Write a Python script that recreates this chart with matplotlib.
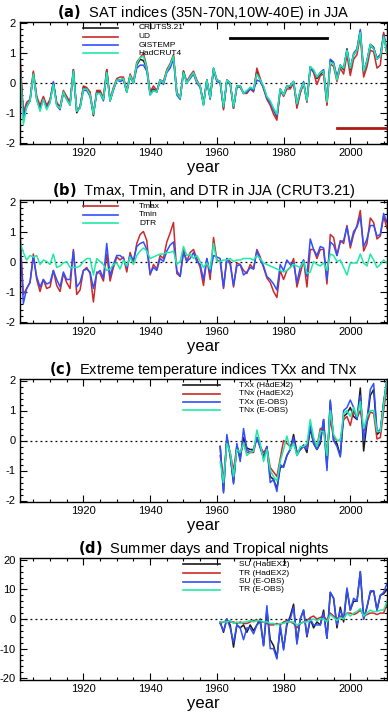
import matplotlib
matplotlib.use("Agg")
import matplotlib.pyplot as plt
from matplotlib.ticker import MultipleLocator
import numpy as np

plt.rcParams['font.family'] = ['Liberation Sans', 'DejaVu Sans']
plt.rcParams['axes.unicode_minus'] = False

years = list(range(1901, 2012))
years_ext = list(range(1961, 2012))

# ---------------- panel (a) ----------------
cruts = [0.7, -1.1, -0.8, -0.6, 0.35, -0.5, -0.85, -0.5, -0.8, -0.6,
         0.0, -0.7, -0.85, -0.3, -0.5, -0.7, 0.45, -1.0, -0.8, -0.15,
         -0.2, -0.4, -1.1, -0.3, -0.3, -0.55, 0.45, -0.6, -0.2, 0.1,
         0.1, 0.15, -0.3, 0.25, 0.0, 0.6, 0.8, 0.75, 0.5, -0.35,
         -0.2, -0.3, 0.1, 0.0, 0.4, 0.6, 0.9, -0.35, -0.5, 0.4,
         0.0, 0.2, 0.35, 0.05, -0.1, -0.7, 0.1, -0.5, 0.5, 0.1,
         0.05, -0.85, 0.1, 0.0, -0.85, -0.1, -0.1, -0.35, -0.3, -0.15,
         -0.25, 0.4, 0.1, -0.15, -0.5, -0.65, -0.9, -1.15, -0.2, -0.4,
         -0.1, -0.15, 0.05, -0.75, -0.3, 0.0, -0.6, 0.55, 0.4, 0.15,
         0.3, 0.4, -0.7, 0.75, 0.65, 0.15, 0.6, 0.45, 1.15, 0.45,
         0.95, 1.1, 1.75, 0.35, 0.75, 1.3, 1.2, 0.8, 0.9, 1.65,
         1.0]
ud = [0.9, -1.0, -0.65, -0.55, 0.4, -0.45, -0.75, -0.45, -0.75, -0.55,
      0.0, -0.65, -0.8, -0.25, -0.45, -0.65, 0.45, -0.95, -0.8, -0.1,
      -0.15, -0.3, -1.05, -0.25, -0.25, -0.5, 0.45, -0.55, -0.15, 0.15,
      0.2, 0.2, -0.25, 0.3, 0.05, 0.7, 0.85, 1.0, 0.55, -0.3,
      -0.1, -0.25, 0.1, 0.05, 0.45, 0.65, 0.95, -0.3, -0.5, 0.4,
      0.05, 0.25, 0.4, 0.1, -0.1, -0.7, 0.1, -0.5, 0.45, 0.1,
      0.05, -0.9, 0.1, 0.0, -0.85, -0.1, -0.15, -0.35, -0.35, -0.2,
      -0.3, 0.5, 0.15, -0.2, -0.55, -0.75, -1.05, -1.25, -0.25, -0.45,
      -0.2, -0.2, 0.0, -0.85, -0.35, 0.0, -0.65, 0.5, 0.35, -0.05,
      0.25, 0.3, -0.75, 0.65, 0.55, 0.05, 0.5, 0.3, 0.95, 0.25,
      0.8, 0.95, 1.6, 0.2, 0.55, 1.1, 1.05, 0.5, 0.6, 1.7,
      0.95]
gistemp = [0.6, -1.2, -0.75, -0.6, 0.25, -0.55, -0.9, -0.55, -0.85, -0.65,
           0.05, -0.75, -0.9, -0.35, -0.55, -0.75, 0.4, -0.9, -0.85, -0.25,
           -0.25, -0.45, -1.0, -0.35, -0.35, -0.6, 0.35, -0.6, -0.25, 0.1,
           0.05, 0.1, -0.3, 0.2, 0.0, 0.5, 0.6, 0.6, 0.4, -0.4,
           -0.25, -0.3, 0.1, -0.05, 0.35, 0.5, 0.8, -0.4, -0.55, 0.35,
           0.0, 0.15, 0.3, 0.0, -0.15, -0.75, 0.1, -0.55, 0.45, 0.05,
           0.0, -0.8, 0.05, -0.05, -0.8, -0.15, -0.1, -0.35, -0.3, -0.2,
           -0.25, 0.1, 0.05, -0.15, -0.5, -0.65, -0.9, -1.1, -0.25, -0.4,
           -0.1, -0.1, 0.05, -0.7, -0.25, 0.05, -0.6, 0.5, 0.4, 0.2,
           0.35, 0.45, -0.6, 0.8, 0.7, 0.2, 0.6, 0.5, 1.1, 0.5,
           1.0, 1.15, 1.8, 0.4, 0.75, 1.25, 1.15, 0.85, 0.95, 1.6,
           1.05]
hadcrut4 = [0.6, -1.4, -0.8, -0.6, 0.3, -0.55, -0.95, -0.55, -0.9, -0.65,
            -0.05, -0.75, -0.85, -0.3, -0.55, -0.75, 0.4, -0.95, -0.85, -0.2,
            -0.2, -0.4, -1.05, -0.35, -0.35, -0.55, 0.35, -0.6, -0.2, 0.1,
            0.1, 0.15, -0.3, 0.25, 0.0, 0.65, 0.85, 0.9, 0.5, -0.4,
            -0.25, -0.3, 0.1, 0.0, 0.4, 0.6, 0.9, -0.35, -0.5, 0.35,
            0.0, 0.2, 0.35, 0.05, -0.1, -0.75, 0.1, -0.5, 0.5, 0.1,
            0.05, -0.8, 0.1, 0.0, -0.8, -0.1, -0.1, -0.35, -0.25, -0.15,
            -0.2, 0.3, 0.1, -0.1, -0.45, -0.6, -0.85, -1.05, -0.2, -0.4,
            -0.1, -0.1, 0.05, -0.7, -0.25, 0.0, -0.6, 0.55, 0.45, 0.2,
            0.35, 0.4, -0.65, 0.7, 0.65, 0.1, 0.6, 0.5, 1.1, 0.5,
            0.95, 1.1, 1.7, 0.4, 0.75, 1.3, 1.15, 0.8, 0.9, 1.55,
            1.0]
bar_black = ([1964, 1993], [1.5, 1.5])
bar_red = ([1996, 2011], [-1.5, -1.5])

# ---------------- panel (b) ----------------
tmax = [1.0, -1.1, -0.9, -0.7, 0.25, -0.6, -1.0, -0.6, -0.9, -0.85,
        -0.3, -0.8, -1.0, -0.4, -0.7, -0.9, 0.4, -1.1, -0.95, -0.3,
        -0.2, -0.4, -1.35, -0.35, -0.4, -0.65, 0.25, -0.65, -0.2, 0.15,
        0.05, 0.15, -0.35, 0.3, -0.05, 0.6, 0.9, 1.0, 0.7, -0.45,
        -0.1, -0.25, 0.2, 0.1, 0.65, 0.95, 1.3, -0.4, -0.5, 0.4,
        0.0, 0.3, 0.4, 0.1, -0.2, -0.8, 0.1, -0.6, 0.8, 0.05,
        0.0, -0.9, 0.1, 0.0, -0.85, -0.05, -0.1, -0.3, -0.4, -0.1,
        -0.25, 0.4, 0.15, -0.2, -0.55, -0.7, -1.0, -1.2, -0.3, -0.6,
        -0.3, -0.2, 0.1, -0.85, -0.4, 0.05, -0.85, 0.4, 0.4, 0.1,
        0.4, 0.4, -0.75, 0.9, 0.8, 0.2, 0.7, 0.6, 1.2, 0.45,
        0.9, 1.2, 1.7, 0.35, 0.6, 1.45, 1.3, 0.75, 0.85, 1.5,
        1.1]
tmin = [0.8, -1.4, -0.9, -0.7, 0.15, -0.5, -0.85, -0.6, -0.75, -0.7,
        -0.3, -0.6, -0.85, -0.35, -0.6, -0.6, 0.35, -0.85, -0.7, -0.3,
        -0.25, -0.35, -0.9, -0.4, -0.3, -0.55, 0.6, -0.5, -0.1, 0.2,
        0.2, 0.1, -0.2, 0.2, 0.05, 0.5, 0.6, 0.65, 0.4, -0.4,
        -0.2, -0.3, 0.1, 0.0, 0.35, 0.55, 0.65, -0.3, -0.5, 0.3,
        0.0, 0.1, 0.3, 0.0, -0.1, -0.6, 0.1, -0.4, 0.2, 0.15,
        0.1, -0.85, 0.1, -0.1, -0.8, -0.15, -0.1, -0.45, -0.35, -0.2,
        -0.25, 0.35, 0.05, -0.15, -0.5, -0.6, -0.75, -0.95, -0.1, -0.3,
        0.05, -0.1, -0.05, -0.7, -0.2, 0.05, -0.5, 0.75, 0.4, 0.2,
        0.5, 0.45, -0.6, 0.65, 0.55, 0.2, 0.65, 0.7, 1.15, 0.55,
        1.0, 1.15, 1.5, 0.5, 0.75, 1.2, 1.2, 0.85, 0.9, 1.6,
        1.3]
dtr = [0.65, 0.3, 0.05, 0.2, 0.15, 0.2, -0.1, 0.05, 0.0, -0.1,
       0.25, -0.2, -0.15, -0.05, 0.0, -0.2, -0.2, -0.2, -0.15, 0.0,
       0.1, 0.1, -0.45, 0.1, 0.0, -0.1, -0.3, -0.25, -0.1, -0.05,
       -0.25, 0.05, -0.15, 0.15, -0.1, 0.2, 0.35, 0.45, 0.35, 0.1,
       0.15, 0.2, 0.25, 0.25, 0.3, 0.3, 0.35, -0.1, 0.0, 0.5,
       0.2, 0.25, 0.1, 0.2, 0.0, -0.2, -0.05, -0.25, 0.6, 0.0,
       0.0, 0.05, 0.05, 0.1, 0.0, 0.05, 0.05, 0.1, 0.1, 0.1,
       0.05, 0.2, 0.1, -0.05, -0.1, -0.15, -0.2, -0.25, -0.3, -0.35,
       -0.3, -0.2, -0.1, -0.15, -0.2, 0.0, -0.4, -0.35, 0.0, -0.1,
       -0.15, -0.05, -0.3, 0.25, 0.2, 0.0, 0.05, -0.2, -0.45, -0.05,
       -0.05, -0.05, 0.25, -0.05, -0.15, 0.25, 0.05, -0.2, -0.1, 0.05,
       -0.05]

# ---------------- panel (c) ----------------
txx_hadex2 = [-0.2, -1.7, 0.1, -0.5, -1.4, -0.2, -0.6, 0.1, -0.25, -0.3,
              -0.3, 0.1, -0.2, -0.55, -0.2, -1.2, -1.3, -1.6, -0.9, -0.85,
              -0.5, -0.3, 0.2, -0.4, -0.3, -0.15, -0.4, 0.4, -0.1, -0.3,
              -0.1, 0.7, -0.9, 1.3, 0.0, -0.1, -0.5, 0.8, 0.9, 1.1,
              0.8, 0.7, 1.75, -0.35, 0.6, 1.5, 1.7, 0.2, 0.3, 1.3,
              2.0]
tnx_hadex2 = [-0.5, -1.3, 0.0, -0.4, -1.0, -0.2, -0.45, -0.1, -0.4, -0.4,
              -0.4, 0.1, -0.2, -0.4, -0.25, -0.9, -1.05, -1.2, -0.6, 0.0,
              -0.1, -0.2, 0.0, -0.4, -0.3, -0.2, -0.2, 0.5, 0.0, -0.2,
              0.4, 0.4, -0.4, 0.7, 0.1, 0.0, 0.0, 0.7, 0.8, 0.5,
              1.0, 0.75, 1.0, 0.3, 0.6, 0.95, 0.9, 0.05, 0.1, 1.0,
              1.8]
txx_eobs = [-0.2, -1.75, 0.2, -0.5, -1.45, -0.1, -0.7, 0.4, -0.3, -0.4,
            -0.3, 0.1, -0.25, -0.6, -0.2, -1.4, -1.3, -1.7, -0.8, -0.9,
            -0.5, -0.3, 0.1, -0.5, -0.3, -0.2, -0.3, 0.5, -0.1, -0.3,
            0.0, 0.7, -1.0, 1.35, 0.0, -0.2, -0.55, 1.0, 1.1, 1.35,
            1.1, 0.7, 1.5, 0.0, 0.7, 1.7, 1.9, 0.3, 0.35, 1.2,
            2.1]
tnx_eobs = [-0.7, -1.4, -0.1, -0.4, -1.2, -0.3, -0.4, -0.1, -0.5, -0.4,
            -0.35, 0.35, -0.1, -0.7, -0.3, -1.0, -1.2, -1.35, -0.7, -0.3,
            0.15, -0.3, -0.1, -0.5, -0.2, -0.2, -0.1, 0.7, 0.1, -0.2,
            0.3, 0.3, -0.5, 1.0, 0.2, 0.0, 0.0, 0.9, 1.0, 0.8,
            1.1, 0.8, 1.3, 0.4, 0.8, 1.0, 1.0, 0.3, 0.3, 1.2,
            2.0]

# ---------------- panel (d) ----------------
su_hadex2 = [-1, -4.5, 0, -2, -9.5, -2, -3, -2, -4.5, -2,
             -4, -2, 0, -9, 3, -7, -9, -13, -3, -10,
             -2, 1, 5, -8, 0, 3, -6, 0, -3, -1,
             -2, 3, -6.5, 9, 7, -3, 4, -1, 10, 3,
             6, 6, 16, 0, 4, 9, 9.5, 3, 8, 8.5,
             10]
tr_hadex2 = [-1.5, -1, -0.5, -1, -1, -1.5, -1, -1.5, -1.5, -1,
             -0.5, -0.5, -1, -1, -1.5, -2, -2, -1.5, -2, -1,
             -0.5, -1, -1.5, -3, -1.5, -1, -0.5, 0.5, 1, 0,
             0.5, 1, -0.5, 2, 1, 0, 1, 0.5, 2, 2,
             1.5, 2, 3, 1, 1.5, 2, 2, 1.5, 2, 2,
             5]
su_eobs = [-1.5, -4, 0, -3, -8, -2, -3, -7, -3, -3,
           -5, -2, -1, -9, 4.5, -10, -10, -13.5, -2, -10.5,
           -1, 0, 4, -8.5, 0, 3, -5.5, 0, -2, -2,
           -2, 2, -6.5, 9, 7, -2, 3, 0, 10.5, 3,
           7, 6, 16, 0, 4, 9.5, 9.5, 3, 8, 9,
           12]
tr_eobs = [-1, -1, -1, -0.5, -1.5, -1, -1.5, -1, -1, -0.5,
           -1, -0.5, -0.5, -1, -1, -1.5, -1.5, -2, -1.5, -1.5,
           -1, -1, -1, -2, -1.5, -1, -1, -0.5, 0, -0.5,
           0, 0, -1, 1.5, 0.5, -0.5, 0.5, 0, 2, 1,
           2, 2.5, 3.5, 1, 2, 3, 2.5, 2.5, 3, 3,
           6]

BLACK = '#1a1a1a'
RED = '#cc2a2a'
BLUE = '#3050ff'
GREEN = '#20eaa8'
LW = 1.1

fig = plt.figure(figsize=(3.88, 7.12), dpi=100)
W, H = 388.0, 712.0
left = 20 / W
width = 367 / W


def make_ax(top_px, bot_px):
    return fig.add_axes([left, 1 - bot_px / H, width, (bot_px - top_px) / H])


def style(ax, ylim, major, minor, title_tag, title_rest):
    ax.set_xlim(1901, 2011)
    ax.set_ylim(*ylim)
    ax.xaxis.set_major_locator(MultipleLocator(20))
    ax.xaxis.set_minor_locator(MultipleLocator(5))
    ax.yaxis.set_major_locator(MultipleLocator(major))
    ax.yaxis.set_minor_locator(MultipleLocator(minor))
    ax.tick_params(which='both', direction='in', top=True, right=True,
                   labelsize=8, width=0.8, pad=3)
    ax.tick_params(which='major', length=5)
    ax.tick_params(which='minor', length=2.5)
    for s in ax.spines.values():
        s.set_linewidth(1.0)
    ax.axhline(0, color='k', ls=(0, (1.5, 2.5)), lw=0.9, zorder=1)
    ax.set_xlabel('year', fontsize=12, labelpad=1)
    ax.set_title(title_tag + '  ' + title_rest, fontsize=10.5, pad=3)


def legend(ax, labels, colors, x0, x1, xt, ys):
    for lab, c, y in zip(labels, colors, ys):
        ax.plot([x0, x1], [y, y], color=c, lw=1.2, transform=ax.transAxes,
                clip_on=False)
        ax.text(xt, y, lab, transform=ax.transAxes, fontsize=6,
                va='center', ha='left')


# panel a
ax = make_ax(22, 144)
ax.plot(years, cruts, color=BLACK, lw=LW)
ax.plot(years, ud, color=RED, lw=LW)
ax.plot(years, gistemp, color=BLUE, lw=LW)
ax.plot(years, hadcrut4, color=GREEN, lw=LW)
ax.plot(bar_black[0], bar_black[1], color='k', lw=2)
ax.plot(bar_red[0], bar_red[1], color='#b01818', lw=2)
style(ax, (-2.05, 2.05), 1, 0.2, r'$\bf{(a)}$', 'SAT indices (35N-70N,10W-40E) in JJA')
legend(ax, ['CRUTS3.21', 'UD', 'GISTEMP', 'HadCRUT4'],
       [BLACK, RED, BLUE, GREEN], 0.172, 0.267, 0.322,
       [0.951, 0.881, 0.811, 0.742])

# panel b
ax = make_ax(200, 323)
ax.plot(years, tmax, color=RED, lw=LW)
ax.plot(years, tmin, color=BLUE, lw=LW)
ax.plot(years, dtr, color=GREEN, lw=LW)
style(ax, (-2.05, 2.05), 1, 0.2, r'$\bf{(b)}$', 'Tmax, Tmin, and DTR in JJA (CRUT3.21)')
legend(ax, ['Tmax', 'Tmin', 'DTR'], [RED, BLUE, GREEN],
       0.172, 0.267, 0.325, [0.951, 0.882, 0.813])

# panel c
ax = make_ax(379, 502)
ax.plot(years_ext, txx_hadex2, color=BLACK, lw=LW)
ax.plot(years_ext, tnx_hadex2, color=RED, lw=LW)
ax.plot(years_ext, txx_eobs, color=BLUE, lw=LW)
ax.plot(years_ext, tnx_eobs, color=GREEN, lw=LW)
style(ax, (-2.05, 2.05), 1, 0.2, r'$\bf{(c)}$', 'Extreme temperature indices TXx and TNx')
legend(ax, ['TXx (HadEX2)', 'TNx (HadEX2)', 'TXx (E-OBS)', 'TNx (E-OBS)'],
       [BLACK, RED, BLUE, GREEN], 0.444, 0.545, 0.597,
       [0.951, 0.882, 0.813, 0.744])

# panel d
ax = make_ax(558, 680)
ax.plot(years_ext, su_hadex2, color=BLACK, lw=LW)
ax.plot(years_ext, tr_hadex2, color=RED, lw=LW)
ax.plot(years_ext, su_eobs, color=BLUE, lw=LW)
ax.plot(years_ext, tr_eobs, color=GREEN, lw=LW)
style(ax, (-20.6, 20.6), 10, 2, r'$\bf{(d)}$', 'Summer days and Tropical nights')
legend(ax, ['SU (HadEX2)', 'TR (HadEX2)', 'SU (E-OBS)', 'TR (E-OBS)'],
       [BLACK, RED, BLUE, GREEN], 0.444, 0.545, 0.597,
       [0.947, 0.877, 0.807, 0.738])

fig.savefig('out.png', dpi=100)
